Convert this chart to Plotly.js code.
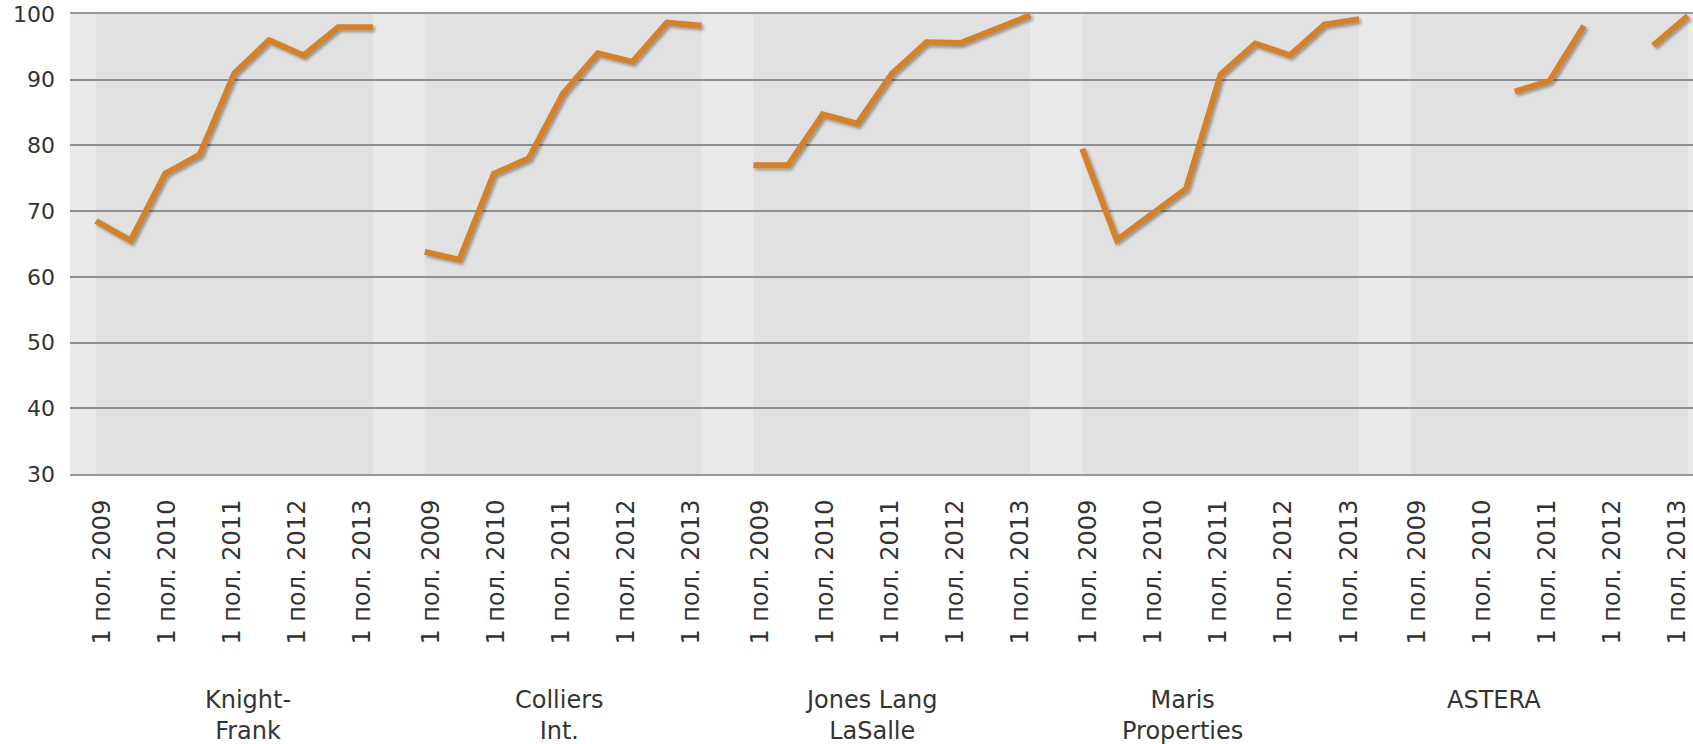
<!DOCTYPE html>
<html>
<head>
<meta charset="utf-8">
<script src="https://cdn.plot.ly/plotly-3.0.1.min.js"></script>
<style>
  html, body { margin: 0; padding: 0; background: #ffffff; }
  #chart { width: 1693px; height: 744px; }
  .scatterlayer .js-line { filter: url(#lineShadow); }
</style>
</head>
<body>
<svg width="0" height="0" style="position:absolute">
  <defs>
    <filter id="lineShadow" x="-20%" y="-20%" width="140%" height="140%">
      <feDropShadow dx="2" dy="2" stdDeviation="1.5" flood-color="#000000" flood-opacity="0.35"/>
    </filter>
  </defs>
</svg>
<div id="chart"></div>
<script>
// ---- data ----
const groups = ['Knight-<br>Frank', 'Colliers<br>Int.', 'Jones Lang<br>LaSalle', 'Maris<br>Properties', 'ASTERA'];
const periods = ['1 пол. 2009', '2 пол. 2009', '1 пол. 2010', '2 пол. 2010', '1 пол. 2011',
                 '2 пол. 2011', '1 пол. 2012', '2 пол. 2012', '1 пол. 2013'];
const knightFrank = [68.5, 65.5, 75.7, 78.6, 91.0, 96.0, 93.7, 98.0, 98.0];
const colliers    = [63.8, 62.6, 75.7, 78.0, 87.9, 94.0, 92.7, 98.7, 98.2];
const jonesLang   = [77.0, 77.0, 84.7, 83.3, 90.9, 95.7, 95.6, 97.8, 99.8];
const maris       = [79.5, 65.6, 69.5, 73.4, 90.8, 95.5, 93.7, 98.4, 99.2];
const astera      = [null, null, null, 88.2, 89.8, 98.2, null, 95.2, 99.7];
const seriesByGroup = [knightFrank, colliers, jonesLang, maris, astera];
const yTicks = [30, 40, 50, 60, 70, 80, 90, 100];

// ---- layout helpers (positions on a numeric axis) ----
const SLOT = 9.5;        // width of one company block, in period units
const BAND = periods.length - 1;
const MID = BAND / 2;
const LABEL_SPREAD = 0.94;   // tick labels sit slightly closer together than the points
const pos = (g, i) => g * SLOT + i;

const traces = seriesByGroup.map((vals, g) => ({
  type: 'scatter',
  mode: 'lines',
  x: periods.map((p, i) => pos(g, i)),
  y: vals,
  connectgaps: false,
  line: { color: '#d3812b', width: 6, shape: 'linear' },
  hoverinfo: 'skip',
  showlegend: false
}));

const tickvals = [], ticktext = [];
groups.forEach((gname, g) => {
  periods.forEach((p, i) => {
    if (p.startsWith('1 ')) {
      tickvals.push(pos(g, MID) + (i - MID) * LABEL_SPREAD);
      ticktext.push(p);
    }
  });
});

const shapes = groups.map((gname, g) => ({
  type: 'rect', xref: 'x', yref: 'paper', layer: 'below',
  x0: pos(g, 0), x1: pos(g, BAND), y0: 0, y1: 1,
  fillcolor: '#e1e1e1', line: { width: 0 }
}));

const annotations = groups.map((gname, g) => ({
  xref: 'x', yref: 'paper',
  x: 4.4 + 9 * g, y: -0.457,
  xanchor: 'center', yanchor: 'top',
  text: gname, showarrow: false, align: 'center',
  font: { family: 'DejaVu Sans, Verdana, sans-serif', size: 24, color: '#333333' }
}));

const layout = {
  width: 1693, height: 744,
  margin: { l: 70, r: 0, t: 14, b: 270 },
  paper_bgcolor: '#ffffff',
  plot_bgcolor: '#eaeaea',
  showlegend: false,
  font: { family: 'DejaVu Sans, Verdana, sans-serif', color: '#333333' },
  xaxis: {
    type: 'linear',
    range: [-0.75, 46.15],
    tickmode: 'array', tickvals: tickvals, ticktext: ticktext,
    tickangle: -90,
    tickfont: { size: 24, color: '#333333' },
    ticks: '', ticklabelstandoff: 14,
    ticklabeloverflow: 'allow', ticklabelshift: -2,
    showgrid: false, zeroline: false,
    showline: true, mirror: true, linecolor: '#999999', linewidth: 2
  },
  yaxis: {
    range: [30, 100],
    tickmode: 'array', tickvals: yTicks,
    tickfont: { size: 22, color: '#333333' },
    ticks: '', ticklabelstandoff: 14,
    showgrid: true, gridcolor: '#8f8f8f', gridwidth: 2,
    zeroline: false, showline: false
  },
  shapes: shapes,
  annotations: annotations
};

Plotly.newPlot('chart', traces, layout, { displayModeBar: false, staticPlot: true });
</script>
</body>
</html>
